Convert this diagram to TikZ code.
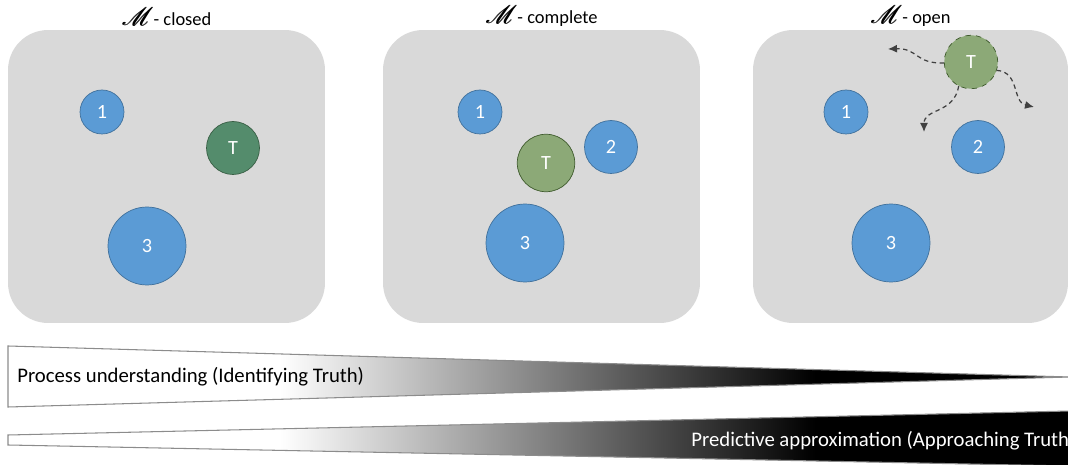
\documentclass[tikz,border=0pt]{standalone}
\usepackage{fontspec}
\setmainfont{Carlito}
\usepackage{mathrsfs}
\usepackage{tikz}
\usetikzlibrary{arrows.meta,positioning}
\definecolor{panelgris}{HTML}{D9D9D9}
\definecolor{azul}{HTML}{5B9BD5}
\definecolor{azulborde}{HTML}{41719C}
\definecolor{verdeosc}{HTML}{548C6C}
\definecolor{verdeoscborde}{HTML}{385E44}
\definecolor{verde}{HTML}{8CA977}
\definecolor{verdeborde}{HTML}{3E5A2C}
\definecolor{borde}{HTML}{8C8C8C}
% white up to about a quarter, black from about three quarters
\pgfdeclarehorizontalshading{fundido}{100bp}{color(0bp)=(white); color(37.8bp)=(white); color(63bp)=(black); color(100bp)=(black)}
% heavier script M for the titles
\newcommand{\espacioM}{{\fontsize{15}{15}\selectfont\rlap{$\mathscr{M}$}\kern0.35pt$\mathscr{M}$}}

\begin{document}
\begin{tikzpicture}[x=0.02cm,y=-0.02cm,
  panel/.style={fill=panelgris,rounded corners=0.8cm,minimum height=5.86cm,inner sep=0},
  titulo/.style={font=\fontsize{10.5}{12}\selectfont,inner sep=1pt},
  modelo/.style={circle,draw=azulborde,fill=azul,text=white,inner sep=0,font=\fontsize{11.5}{13}\selectfont},
  verdad/.style={modelo,draw=verdeborde,fill=verde},
  deriva/.style={-{Latex[length=1.8mm,width=1.6mm]},draw=black!75,line width=0.7pt,dash pattern=on 2.5pt off 2pt},
  cuna/.style={draw=borde,line width=0.6pt,shading=fundido},
  leyenda/.style={anchor=west,inner sep=0,font=\fontsize{11.8}{13}\selectfont}]
\useasboundingbox (0,0) rectangle (1068,465);
% the three model spaces
\node[panel,minimum width=6.34cm] (p1) at (166.5,176.5) {};
\node[panel,minimum width=6.34cm] (p2) at (541.5,176.5) {};
\node[panel,minimum width=6.3cm] (p3) at (910.5,176.5) {};
\node[titulo,above=0.3mm of p1] (t1) {\espacioM- closed};
\node[titulo,above=0.3mm of p2] (t2) {\espacioM- complete};
\node[titulo,above=0.3mm of p3] (t3) {\espacioM- open};
% closed
\node[modelo,minimum size=0.88cm] (a1) at (102,112) {1};
\node[modelo,minimum size=1.56cm] (a3) at (147,246) {3};
\node[verdad,fill=verdeosc,draw=verdeoscborde,minimum size=1.06cm] (T1) at (233,148) {T};
% complete
\node[modelo,minimum size=0.88cm] (b1) at (480,112) {1};
\node[modelo,minimum size=1.06cm] (b2) at (611,147) {2};
\node[modelo,minimum size=1.56cm] (b3) at (525,243) {3};
\node[verdad,minimum size=1.15cm] (T2) at (546,163) {T};
% open
\node[modelo,minimum size=0.88cm] (c1) at (846,112) {1};
\node[modelo,minimum size=1.06cm] (c2) at (978,147) {2};
\node[modelo,minimum size=1.56cm] (c3) at (891,243) {3};
\node[verdad,dashed,minimum size=1.07cm] (T3) at (971,62) {T};
\coordinate (d1) at (888,49);
\coordinate (d2) at (924,132);
\coordinate (d3) at (1034,107);
\draw[deriva] (T3.182) .. controls (915,64) and (918,48) .. (d1);
\draw[deriva] (T3.243) .. controls (954,114) and (924,108) .. (d2);
\draw[deriva] (T3.342) .. controls (1020,72) and (1012,102) .. (d3);
% the two wedges
\begin{scope}
\clip (0,0) rectangle (1068,465);
\path[cuna] (8,346) -- (1070,377) -- (8,407) -- cycle;
\path[cuna] (8,435) -- (1070,411) -- (1070,466) -- (8,445) -- cycle;
\node[leyenda] (u1) at (17,377) {Process understanding (Identifying Truth)};
\node[leyenda,text=white] (u2) at (691,441) {Predictive approximation (Approaching Truth)};
\end{scope}
\end{tikzpicture}
\end{document}
